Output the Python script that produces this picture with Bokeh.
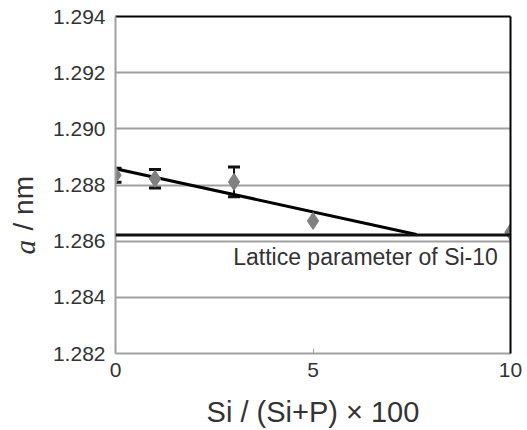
import math
from bokeh.plotting import figure
from bokeh.layouts import row
from bokeh.models import (ColumnDataSource, Whisker, Label, LinearAxis, Span,
                          FixedTicker, Range1d, PrintfTickFormatter)
from bokeh.embed import file_html
from bokeh.resources import INLINE

# ---- data ----
si_ratio = [0, 1, 3, 5, 10]
lattice_a = [1.28835, 1.28822, 1.28811, 1.28672, 1.28632]
err_x = [0, 1, 3]
err_val = [0.00025, 0.00033, 0.00053]
err_center = [1.28835, 1.28822, 1.28811]
fit_x = [0, 7.62]
fit_y = [1.28858, 1.28624]
si10_lattice = 1.28622
x_ticks = [0, 5, 10]
y_ticks = [1.282, 1.284, 1.286, 1.288, 1.290, 1.292, 1.294]

FONT = "Liberation Sans"
TXT = "#333333"
GRID = "#a0a0a0"

H = 428
p = figure(width=485, height=H, frame_width=395, frame_height=337,
           x_range=Range1d(0, 10), y_range=Range1d(1.282, 1.294),
           output_backend="svg", toolbar_location=None,
           min_border_left=75, min_border_top=16, min_border_right=15,
           min_border_bottom=75)
p.outline_line_color = None
p.background_fill_color = "white"

# axes
xa = p.xaxis[0]
xa.ticker = FixedTicker(ticks=x_ticks)
xa.axis_line_color = GRID
xa.axis_line_width = 2
xa.major_tick_in = 5
xa.major_tick_out = 0
xa.major_tick_line_color = GRID
xa.minor_tick_line_color = None
xa.major_label_text_font = FONT
xa.major_label_text_font_size = "21px"
xa.major_label_text_color = TXT
xa.major_label_standoff = 9
xa.axis_label = "Si / (Si+P) × 100"
xa.axis_label_text_font = FONT
xa.axis_label_text_font_size = "29px"
xa.axis_label_text_font_style = "normal"
xa.axis_label_text_color = TXT
xa.axis_label_standoff = 16

ya = p.yaxis[0]
ya.ticker = FixedTicker(ticks=y_ticks)
ya.formatter = PrintfTickFormatter(format="%.3f")
ya.axis_line_color = GRID
ya.axis_line_width = 2
ya.major_tick_in = 0
ya.major_tick_out = 0
ya.minor_tick_line_color = None
ya.major_label_text_font = FONT
ya.major_label_text_font_size = "21px"
ya.major_label_text_color = TXT
ya.major_label_standoff = 10

# black right and top borders
for side in ("right", "above"):
    ax = LinearAxis(ticker=FixedTicker(ticks=[]), axis_line_color="black",
                    axis_line_width=2, major_label_text_font_size="0px",
                    major_tick_line_color=None, minor_tick_line_color=None)
    p.add_layout(ax, side)

p.xgrid.visible = False
p.ygrid.ticker = FixedTicker(ticks=y_ticks[1:-1])
p.ygrid.grid_line_color = GRID
p.ygrid.grid_line_width = 2

# Si-10 lattice parameter line
p.add_layout(Span(location=si10_lattice, dimension="width",
                  line_color="#111111", line_width=3))
p.add_layout(Label(x=2.98, y=si10_lattice, y_offset=-9, text="Lattice parameter of Si-10",
                   text_font=FONT, text_font_size="23px", text_color=TXT,
                   text_baseline="top", text_align="left"))

# fit line
p.line(fit_x, fit_y, line_color="black", line_width=3)

# points
src = ColumnDataSource(dict(x=si_ratio, y=lattice_a))
p.scatter("x", "y", source=src, marker="diamond", size=17,
          fill_color="#808080", line_color="#808080")

# error bars
esrc = ColumnDataSource(dict(x=err_x,
                             lo=[c - e for c, e in zip(err_center, err_val)],
                             hi=[c + e for c, e in zip(err_center, err_val)]))
w = Whisker(source=esrc, base="x", lower="lo", upper="hi", dimension="height",
            line_color="#111111", line_width=2)
for h in (w.upper_head, w.lower_head):
    h.size = 12
    h.line_color = "#111111"
    h.line_width = 3
p.add_layout(w)

# y-axis label panel: italic "a" + "/ nm"
lab = figure(width=40, height=H, frame_width=40, frame_height=H,
             x_range=Range1d(0, 1), y_range=Range1d(0, 1),
             output_backend="svg", toolbar_location=None,
             min_border_left=0, min_border_right=0, min_border_top=0,
             min_border_bottom=0)
lab.axis.visible = False
lab.grid.visible = False
lab.outline_line_color = None
lab.add_layout(Label(x=24, y=H - 238, x_units="screen", y_units="screen",
                     text="a", text_font="Liberation Serif", text_font_style="italic",
                     text_font_size="29px", text_color=TXT, angle=math.pi / 2,
                     text_align="left", text_baseline="middle"))
lab.add_layout(Label(x=23, y=H - 214, x_units="screen", y_units="screen",
                     text="/ nm", text_font=FONT,
                     text_font_size="28px", text_color=TXT, angle=math.pi / 2,
                     text_align="left", text_baseline="middle"))

layout = row(lab, p)
open("out.html", "w").write(file_html(layout, INLINE))
